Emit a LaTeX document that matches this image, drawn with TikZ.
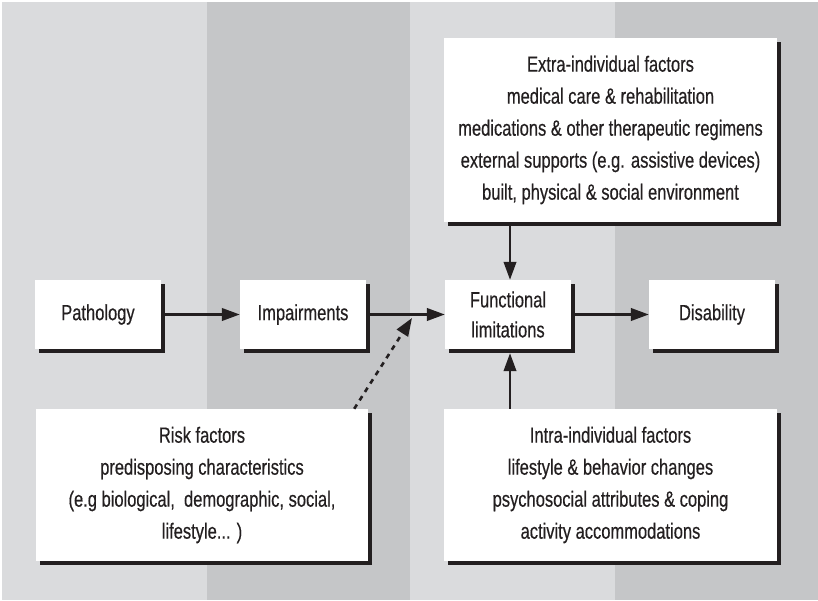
\documentclass[tikz,border=0pt]{standalone}
\usepackage{fontspec}
\setmainfont{Liberation Sans}[FakeStretch=0.75,FakeBold=0.4]
\usetikzlibrary{arrows.meta,shadows}
\definecolor{bandlight}{RGB}{218,219,221}
\definecolor{banddark}{RGB}{197,198,200}
\definecolor{ink}{RGB}{35,31,32}
\begin{document}
\begin{tikzpicture}[x=1pt,y=-1pt,
  box/.style={fill=white, draw=none, text=ink, align=center, inner sep=0pt,
    general shadow={fill=ink, shadow xshift=4pt, shadow yshift=-4pt},
    font=\fontsize{22}{32}\selectfont},
  smallbox/.style={box, minimum width=126pt, minimum height=69pt},
  bigbox/.style={box, minimum width=333pt},
  arr/.style={draw=ink, line width=2.4pt, -{Triangle[length=18pt,width=12.5pt]}},
  dasharr/.style={arr, line width=2.6pt, dash pattern=on 5pt off 5pt, -{Triangle[length=18pt,width=13pt]}}
]
\useasboundingbox (0,0) rectangle (818,601);
\fill[white] (0,0) rectangle (818,601);
\fill[bandlight] (2,2) rectangle (207,600);
\fill[banddark] (207,2) rectangle (410,600);
\fill[bandlight] (410,2) rectangle (615,600);
\fill[banddark] (615,2) rectangle (818,600);

\node[smallbox] (path) at (98,314.5) {Pathology};
\node[smallbox] (imp) at (303,314.5) {Impairments};
\node[smallbox, font=\fontsize{22}{30}\selectfont] (func) at (508,314.5) {Functional\\limitations};
\node[smallbox] (dis) at (712,314.5) {Disability};

\node[bigbox, minimum height=184pt] (extra) at (610.5,130) {Extra-individual factors\\
  medical care \& rehabilitation\\
  medications \& other therapeutic regimens\\
  external supports (e.g. assistive devices)\\
  built, physical \& social environment};

\node[bigbox, minimum height=152pt] (intra) at (610.5,485) {Intra-individual factors\\
  lifestyle \& behavior changes\\
  psychosocial attributes \& coping\\
  activity accommodations};

\node[box, minimum width=332pt, minimum height=152pt] (risk) at (202,485) {Risk factors\\
  predisposing characteristics\\
  (e.g biological,\ \ demographic, social,\\
  lifestyle... )};

\coordinate (dtip) at (412,318);

\draw[arr] ([xshift=4pt]path.east) -- (imp.west);
\draw[arr] ([xshift=4pt]imp.east) -- (func.west);
\draw[arr] ([xshift=4pt]func.east) -- (dis.west);
\draw[arr] ([xshift=2pt]extra.south -| func.north) -- ([xshift=2pt]func.north);
\draw[arr] ([xshift=2pt]intra.north -| func.south) -- ([xshift=2pt,yshift=-4pt]func.south);
\draw[dasharr] ([xshift=-14pt]risk.north east) -- (dtip);
\end{tikzpicture}
\end{document}
